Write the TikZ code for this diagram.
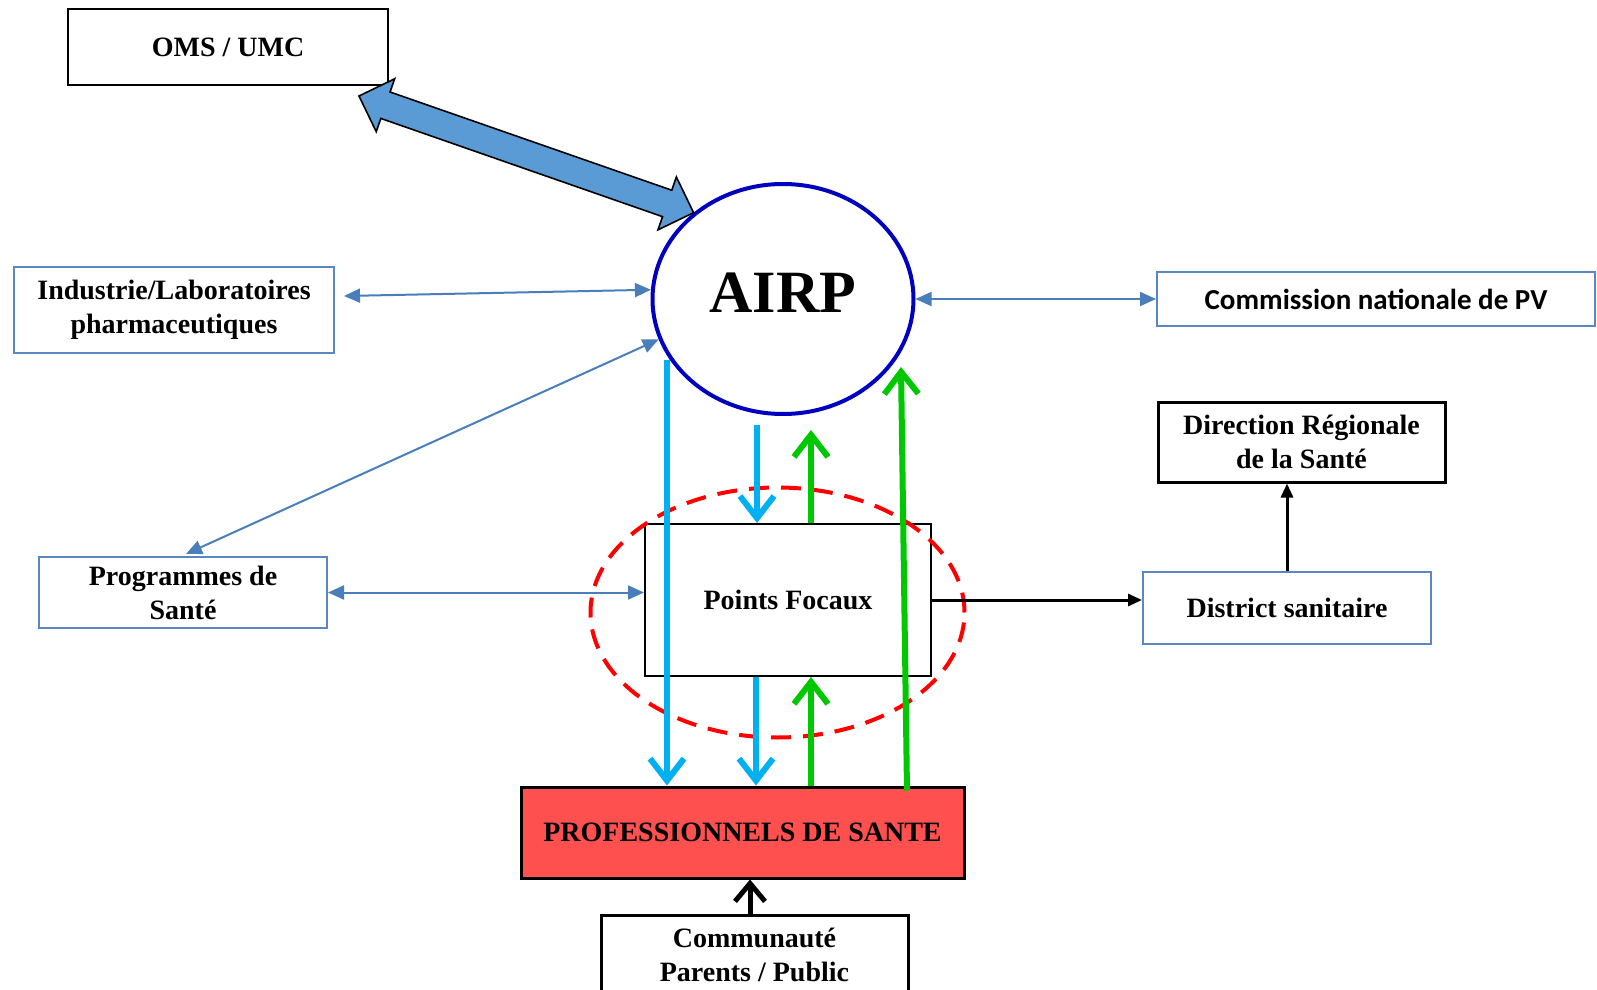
\documentclass[tikz,border=0pt]{standalone}
\usepackage{fontspec}
\setmainfont{Liberation Serif}
\newfontfamily\calfont{Carlito}
\usetikzlibrary{arrows.meta,shapes.geometric,calc}
\definecolor{boxblue}{HTML}{5B87C0}
\definecolor{arrblue}{HTML}{4A7EBB}
\definecolor{cyanc}{HTML}{00B0F0}
\definecolor{greenc}{HTML}{00C800}
\definecolor{airpblue}{HTML}{0000C0}
\definecolor{bigblue}{HTML}{5B9BD5}
\definecolor{profred}{HTML}{FF5050}
\tikzset{
  box/.style={draw=black, rectangle, inner sep=0pt, align=center,
    font=\fontsize{14}{17}\selectfont\bfseries, line width=1pt},
  bbox/.style={box, draw=boxblue},
  thinarr/.style={draw=arrblue, line width=1pt,
    {Triangle[length=8pt,width=7pt]}-{Triangle[length=8pt,width=7pt]}},
  cyanarr/.style={draw=cyanc, line width=3pt,
    -{Straight Barb[length=11pt,width=17pt]}},
  greenarr/.style={draw=greenc, line width=3pt,
    -{Straight Barb[length=11pt,width=17pt]}},
  blkarr/.style={draw=black, line width=1.5pt, -{Triangle[length=7pt,width=6pt]}},
  blkthick/.style={draw=black, line width=2.5pt, -{Straight Barb[length=9pt,width=15pt]}},
}
\begin{document}
\begin{tikzpicture}[x=0.5pt,y=-0.5pt]
\clip (0,0) rectangle (1597,990);
\fill[white] (0,0) rectangle (1597,990);

% nodes
\node[box, minimum width=160pt, minimum height=38pt] (oms) at (228,47) {OMS / UMC};
\node[bbox, minimum width=160pt, minimum height=43pt] (ind) at (174,310) {Industrie/Laboratoires\\pharmaceutiques};
\node[bbox, minimum width=144pt, minimum height=35.5pt] (prog) at (183,592.5) {Programmes de\\Santé};
\node[bbox, minimum width=219pt, minimum height=27pt, font=\calfont\fontsize{14.5}{17}\selectfont\bfseries] (comm) at (1376,299) {Commission nationale de PV};
\node[box, line width=1.5pt, minimum width=143.5pt, minimum height=40pt] (dir) at (1301.5,442) {Direction Régionale\\de la Santé};
\node[bbox, minimum width=144pt, minimum height=36pt] (dist) at (1287,608) {District sanitaire};
\node[box, minimum width=143pt, minimum height=76pt] (pf) at (788,600) {Points Focaux};
\node[box, line width=1.5pt, fill=profred, minimum width=221.5pt, minimum height=45.5pt] (prof) at (742.5,832.5) {PROFESSIONNELS DE SANTE};
\node[box, line width=1.5pt, minimum width=153.5pt, minimum height=40pt] (com) at (754.5,955) {Communauté\\Parents / Public};
\node[draw=airpblue, line width=2pt, ellipse, minimum width=130.5pt, minimum height=115pt, inner sep=0pt, font=\fontsize{30}{30}\selectfont\bfseries] (airp) at (783,299) {\raisebox{6pt}{AIRP}};
\node[draw=red, ellipse, line width=2pt, dash pattern=on 10pt off 6pt, minimum width=187pt, minimum height=125pt, inner sep=0pt] (grp) at (777.5,612.5) {};

% big double block arrow OMS <-> AIRP
\coordinate (b1) at ([shift={(-30,10)}]oms.south east);
\coordinate (b2) at (airp.136);
\coordinate (h1) at ($(b1)!14pt!(b2)$);
\coordinate (h2) at ($(b2)!14pt!(b1)$);
\filldraw[fill=bigblue, draw=black, line width=0.8pt, line join=miter]
  (b1) -- ($(h1)!14pt!90:(b2)$) -- ($(h1)!7pt!90:(b2)$)
  -- ($(h2)!7pt!-90:(b1)$) -- ($(h2)!14pt!-90:(b1)$) -- (b2)
  -- ($(h2)!14pt!90:(b1)$) -- ($(h2)!7pt!90:(b1)$)
  -- ($(h1)!7pt!-90:(b2)$) -- ($(h1)!14pt!-90:(b2)$) -- cycle;

% thin blue connectors
\draw[thinarr] ([shift={(9,-14)}]ind.east) -- (airp.176);
\draw[thinarr] ([shift={(3,-2)}]prog.north) -- (airp.198);
\draw[thinarr] (prog.east) -- (prog.east -| pf.west);
\draw[thinarr] (airp.east) -- (comm.west);

% cyan and green
\coordinate (c1) at ([shift={(-116,61)}]airp.center);
\coordinate (c2) at ([shift={(-26,9)}]airp.south);
\coordinate (g1) at ([shift={(28,14)}]airp.south);
\coordinate (c3) at ([shift={(-32,0)}]pf.south);
\coordinate (g2) at ([shift={(68.5,0)}]prof.north);
\coordinate (g3s) at ([shift={(164.5,5)}]prof.north);
\coordinate (g3e) at ([shift={(118,68)}]airp.center);
\draw[cyanarr] (c1) -- (c1 |- prof.north);
\draw[cyanarr] (c2) -- (c2 |- pf.north);
\draw[greenarr] (g1 |- pf.north) -- (g1);
\draw[cyanarr] (c3) -- (c3 |- prof.north);
\draw[greenarr] (g2) -- (g2 |- pf.south);
\draw[greenarr] (g3s) -- (g3e);

% black connectors
\draw[blkarr] (pf.east) -- (pf.east -| dist.west);
\draw[blkarr] (dist.north) -- (dist.north |- dir.south);
\coordinate (k1) at ([xshift=-2.25pt]com.north);
\draw[blkthick] (k1) -- (k1 |- prof.south);
\end{tikzpicture}
\end{document}
